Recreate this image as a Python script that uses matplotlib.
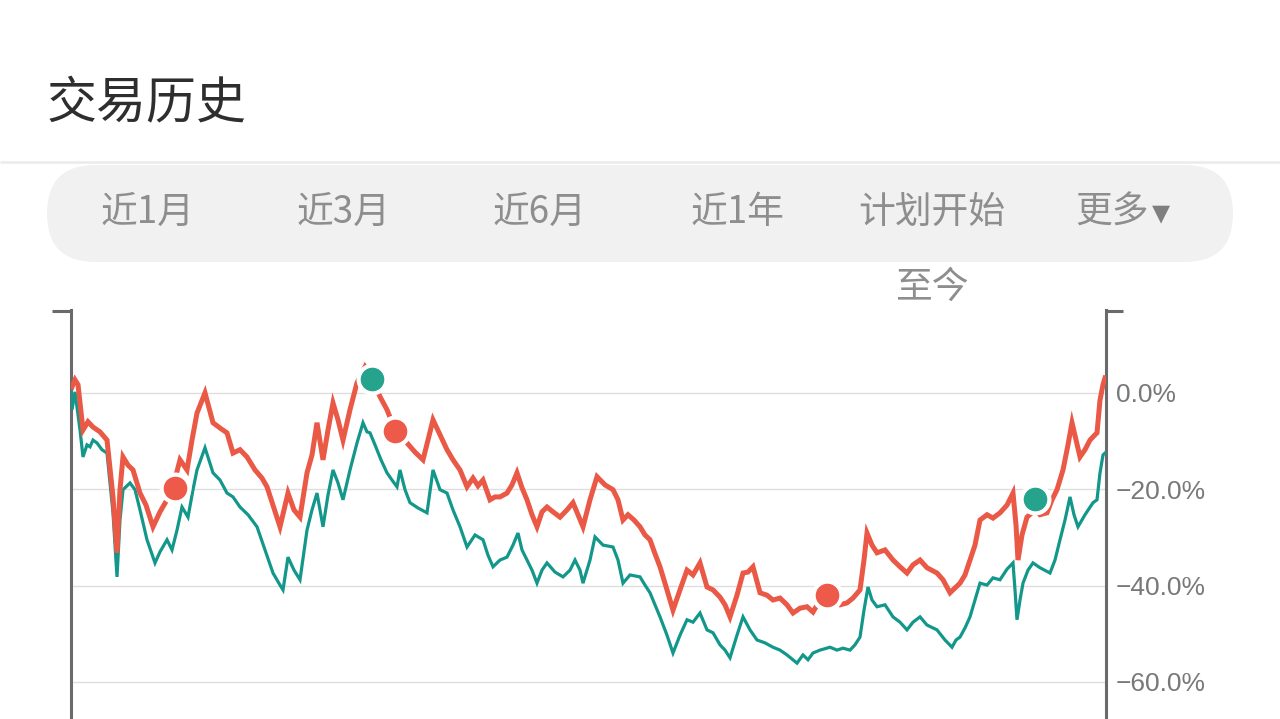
##
## === DEPENDENCIES
##

import matplotlib

matplotlib.use("Agg")
import matplotlib.pyplot as plt
from matplotlib.patches import FancyBboxPatch
from matplotlib.ticker import FuncFormatter

##
## === DATA
##

TITLE = "交易历史"
TAB_LABELS = ["近1月", "近3月", "近6月", "近1年", "计划开始", "更多▾"]
TAB_SUBLABEL = "至今"
Y_TICKS = [0.0, -20.0, -40.0, -60.0]

## plan return (red), trading-day index vs percent
RED_DAY = [
    1, 4, 7, 12, 17, 22, 29, 36, 42, 46, 49, 52, 57, 62, 69, 75, 82, 89, 96, 102,
    109, 116, 121, 126, 134, 142, 149, 156, 162, 169, 176, 184, 191, 196, 202, 209, 213, 217, 223, 229,
    236, 241, 246, 252, 257, 262, 267, 272, 279, 286, 294, 301, 309, 316, 324, 330, 336, 344, 352, 357,
    362, 369, 376, 382, 389, 396, 402, 407, 412, 419, 424, 429, 436, 441, 446, 451, 456, 461, 466, 471,
    476, 482, 489, 496, 502, 507, 512, 519, 526, 534, 542, 547, 552, 557, 563, 569, 574, 579, 584, 589,
    596, 602, 609, 616, 622, 629, 636, 642, 649, 654, 659, 666, 672, 677, 682, 689, 696, 702, 709, 716,
    722, 729, 736, 742, 749, 756, 762, 769, 776, 782, 789, 793, 796, 801, 806, 814, 822, 829, 836, 842,
    849, 856, 866, 872, 879, 884, 889, 894, 899, 904, 909, 916, 922, 929, 936, 942, 945, 947, 951, 956,
    964, 969, 976, 981, 986, 992, 997, 1001, 1005, 1009, 1014, 1019, 1024, 1026, 1029, 1032, 1034,
]
RED_PCT = [
    1.2, 2.7, 1.7, -7.7, -6.0, -7.1, -8.1, -9.8, -21.6, -33.2, -20.1, -13.3, -15.0, -16.0, -20.8, -23.3, -27.8, -24.7, -22.2, -19.5,
    -13.9, -16.0, -9.8, -4.2, 0.0, -6.2, -7.3, -8.3, -12.5, -11.8, -13.3, -16.0, -17.7, -19.5, -23.3, -27.8, -24.3, -20.8, -24.3, -25.8,
    -16.6, -12.9, -6.2, -13.9, -7.7, -2.1, -5.6, -9.8, -3.5, 2.1, 5.4, 3.1, -0.8, -3.5, -7.7, -9.3, -10.4, -12.3, -13.9, -9.8,
    -5.6, -8.7, -11.8, -13.9, -16.0, -19.5, -17.7, -19.3, -18.1, -22.2, -21.6, -21.6, -20.8, -19.1, -16.6, -19.7, -22.2, -25.3, -27.8, -24.7,
    -23.7, -24.7, -25.8, -24.3, -22.8, -25.3, -27.8, -22.2, -17.4, -19.1, -20.1, -22.2, -26.4, -25.3, -26.4, -27.8, -29.5, -30.5, -33.4, -36.1,
    -40.9, -45.1, -40.9, -36.8, -37.8, -35.3, -40.3, -40.9, -42.4, -44.0, -46.5, -42.0, -37.4, -37.2, -36.1, -41.5, -42.0, -43.0, -42.6, -44.0,
    -45.7, -44.7, -44.4, -45.5, -43.0, -42.4, -43.4, -44.0, -43.6, -42.6, -40.9, -34.7, -29.1, -31.6, -33.2, -32.6, -34.7, -36.1, -37.4, -35.7,
    -34.7, -36.3, -37.4, -38.8, -41.5, -40.5, -39.5, -37.8, -34.7, -31.6, -26.4, -25.3, -26.0, -24.9, -23.3, -20.8, -27.4, -34.7, -29.5, -25.8,
    -24.3, -25.3, -24.9, -22.2, -20.1, -16.0, -10.8, -6.2, -9.8, -13.3, -11.8, -9.8, -8.7, -8.3, -1.5, 1.7, 3.1,
]

## benchmark (green)
GREEN_DAY = [
    0, 1, 4, 9, 12, 16, 19, 22, 26, 31, 36, 42, 46, 49, 52, 59, 64, 69, 76, 84,
    89, 96, 101, 106, 111, 117, 122, 126, 134, 142, 149, 156, 162, 169, 177, 186, 194, 202, 209, 212,
    217, 223, 229, 236, 241, 246, 252, 257, 262, 267, 272, 279, 286, 292, 296, 299, 304, 310, 316, 321,
    326, 329, 334, 339, 347, 356, 362, 369, 376, 382, 389, 396, 404, 412, 417, 422, 429, 436, 442, 447,
    451, 456, 461, 466, 471, 476, 484, 492, 499, 504, 509, 512, 519, 524, 532, 542, 547, 552, 559, 569,
    574, 579, 584, 589, 596, 602, 609, 616, 622, 629, 636, 642, 649, 654, 659, 666, 672, 679, 686, 694,
    702, 709, 716, 726, 732, 737, 742, 749, 759, 766, 772, 779, 784, 789, 793, 797, 801, 806, 814, 822,
    829, 836, 842, 849, 856, 866, 874, 881, 885, 889, 894, 899, 904, 909, 916, 922, 929, 936, 942, 944,
    946, 949, 952, 957, 962, 969, 979, 984, 989, 994, 999, 1003, 1007, 1014, 1022, 1026, 1029, 1032, 1034,
]
GREEN_PCT = [
    1.7, -3.5, 0.2, -7.7, -13.3, -10.8, -11.2, -9.8, -10.4, -11.8, -12.5, -24.9, -38.2, -26.4, -20.1, -18.7, -20.1, -24.3, -30.5, -35.3,
    -33.0, -30.5, -32.6, -28.5, -23.7, -25.8, -20.1, -16.0, -11.4, -16.6, -18.1, -20.8, -21.6, -23.7, -25.3, -27.8, -32.6, -37.4, -39.9, -40.9,
    -34.1, -36.8, -38.8, -28.5, -24.3, -20.8, -27.8, -21.2, -16.0, -18.7, -22.2, -16.0, -10.4, -6.2, -8.1, -8.3, -10.8, -13.9, -16.6, -18.1,
    -19.5, -16.0, -20.1, -22.8, -23.9, -24.9, -16.0, -20.1, -20.8, -24.3, -27.8, -32.0, -29.5, -30.5, -33.7, -36.1, -34.7, -34.1, -31.6, -29.1,
    -32.6, -34.7, -36.8, -39.5, -36.8, -35.3, -37.2, -38.2, -36.8, -34.7, -36.8, -39.5, -34.7, -29.9, -31.6, -32.0, -34.7, -39.5, -37.8, -38.2,
    -39.9, -41.5, -44.0, -46.5, -50.3, -54.0, -50.3, -47.1, -47.6, -45.7, -49.2, -49.8, -52.3, -53.4, -55.0, -50.3, -46.5, -49.2, -51.3, -51.9,
    -52.8, -53.4, -54.4, -56.1, -54.4, -55.4, -54.0, -53.4, -52.8, -53.4, -53.0, -53.4, -52.3, -50.7, -45.1, -40.3, -43.0, -44.4, -44.0, -46.5,
    -47.6, -49.2, -47.6, -46.5, -48.2, -49.2, -51.3, -52.8, -51.3, -50.7, -48.8, -46.5, -43.0, -39.5, -39.9, -38.4, -38.8, -36.6, -35.3, -40.9,
    -47.1, -43.0, -39.5, -36.8, -35.3, -36.3, -37.4, -34.7, -30.5, -26.4, -21.6, -25.3, -27.8, -25.3, -22.8, -22.2, -16.6, -12.9, -12.5,
]

## trade points
RED_MARK_DAY = [104, 324, 756]
RED_MARK_PCT = [-19.7, -7.9, -42.0]
GREEN_MARK_DAY = [301, 964]
GREEN_MARK_PCT = [2.9, -22.0]

##
## === STYLE
##

W, H = 1280, 719
CJK = ["Noto Sans CJK SC", "DejaVu Sans"]
RED = "#ea5846"
GREEN = "#12978a"
RED_DOT = "#ee5a4a"
GREEN_DOT = "#26a38c"
AXIS_GREY = "#6a6a6a"
TEXT_GREY = "#8e8e8e"
ARROW = "▾"

##
## === MAIN
##


def main() -> None:
    plt.rcParams["font.family"] = CJK
    fig = plt.figure(figsize=(W / 100, H / 100), dpi=100, facecolor="white")

    ## page chrome, drawn in pixel coordinates
    bg = fig.add_axes([0, 0, 1, 1], zorder=0)
    bg.set_xlim(0, W)
    bg.set_ylim(H, 0)
    bg.axis("off")
    bg.text(47, 104, TITLE, fontsize=36, fontweight="medium", color="#2e2e2e",
            ha="left", va="center")
    bg.plot([0, W], [162, 162], color="#ebebeb", lw=1.8, solid_capstyle="butt")
    pill = FancyBboxPatch((47, 165), 1233 - 47, 97,
                          boxstyle="round,pad=0,rounding_size=48.5",
                          facecolor="#f1f1f1", edgecolor="none")
    bg.add_patch(pill)
    tab_x = [148, 343, 540, 737, 932, 1128]
    for x, label in zip(tab_x, TAB_LABELS):
        if label.endswith(ARROW):
            ## the light CJK face has no triangle: draw it on its own
            bg.text(x + 21, 212, label[:-1], fontsize=26.5, fontweight="light",
                    color=TEXT_GREY, ha="right", va="center")
            bg.text(x + 24, 213, ARROW, fontsize=26, family=["DejaVu Sans"],
                    color="#7f7f7f", ha="left", va="center")
        else:
            bg.text(x, 212, label, fontsize=26.5, fontweight="light", color=TEXT_GREY,
                    ha="center", va="center")
    bg.text(932, 287, TAB_SUBLABEL, fontsize=26.5, fontweight="light", color=TEXT_GREY,
            ha="center", va="center")
    ## small caps on top of the two axis lines
    bg.plot([52, 72], [310.5, 310.5], color=AXIS_GREY, lw=2.2, solid_capstyle="butt")
    bg.plot([1105, 1123], [310.5, 310.5], color=AXIS_GREY, lw=2.2, solid_capstyle="butt")

    ## chart
    ax = fig.add_axes([71 / W, 0, (1106 - 71) / W, (H - 310) / H], zorder=1)
    ax.set_facecolor("none")
    ax.set_xlim(0, 1035)
    ax.set_ylim(-67.7, 17.2)
    for side in ("top", "bottom"):
        ax.spines[side].set_visible(False)
    for side in ("left", "right"):
        ax.spines[side].set_color(AXIS_GREY)
        ax.spines[side].set_linewidth(2.2)
    ax.set_xticks([])
    ax.set_yticks(Y_TICKS)
    ax.yaxis.tick_right()
    ax.tick_params(axis="y", length=0, pad=7, labelsize=19, labelcolor="#787878")
    ax.yaxis.set_major_formatter(FuncFormatter(lambda v, _: f"{v:.1f}%".replace("-", "\u2212")))
    for lab in ax.get_yticklabels():
        lab.set_fontfamily(["Liberation Sans", "DejaVu Sans"])
    ax.grid(axis="y", color="#dedede", lw=1.0)
    ax.set_axisbelow(True)

    ax.plot(GREEN_DAY, GREEN_PCT, color=GREEN, lw=2.3, solid_joinstyle="miter", zorder=3)
    ax.plot(RED_DAY, RED_PCT, color=RED, lw=3.6, solid_joinstyle="miter", zorder=4)
    ax.plot(RED_MARK_DAY, RED_MARK_PCT, "o", ms=20, color=RED_DOT,
            mec="white", mew=3, zorder=5, clip_on=False)
    ax.plot(GREEN_MARK_DAY, GREEN_MARK_PCT, "o", ms=20, color=GREEN_DOT,
            mec="white", mew=3, zorder=5, clip_on=False)

    fig.savefig("out.png", dpi=100, facecolor="white")


if __name__ == "__main__":
    main()
